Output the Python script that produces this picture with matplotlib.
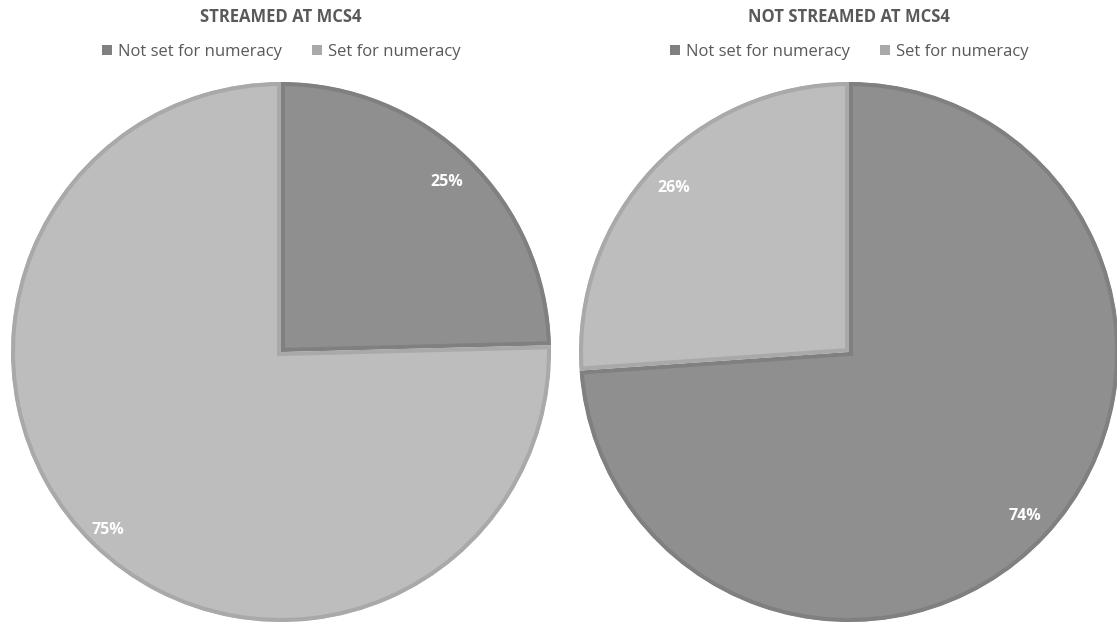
import matplotlib
matplotlib.use("Agg")
import matplotlib.pyplot as plt
from matplotlib.patches import Patch
import numpy as np

categories = ["Not set for numeracy", "Set for numeracy"]
titles = ["STREAMED AT MCS4", "NOT STREAMED AT MCS4"]
streamed = [24.6, 75.4]
not_streamed = [73.9, 26.1]
pct_labels = [["25%", "75%"], ["74%", "26%"]]

fills = ["#8f8f8f", "#bdbdbd"]
edges = ["#808080", "#a9a9a9"]
legend_cols = ["#808080", "#a9a9a9"]
text_col = "#595959"

plt.rcParams['font.family'] = ['Open Sans', 'DejaVu Sans']

W, H = 1117, 625
fig = plt.figure(figsize=(W / 100, H / 100), dpi=100)

R = 270
centers = [(281, 352), (849, 352)]
datasets = [streamed, not_streamed]

for i, (data, (cx, cy)) in enumerate(zip(datasets, centers)):
    ax = fig.add_axes([(cx - R) / W, (H - cy - R) / H, 2 * R / W, 2 * R / H])
    wedges, _ = ax.pie(data, colors=fills, startangle=90, counterclock=False,
                       radius=1.0, wedgeprops=dict(linewidth=5.8))
    ax.set_xlim(-1, 1)
    ax.set_ylim(-1, 1)
    ax.set_aspect('equal')
    for w, ec in zip(wedges, edges):
        w.set_edgecolor(ec)
        w.set_clip_on(True)
        w.set_clip_path(w)
    total = sum(data)
    start = 90.0
    dists = [0.88, 0.92] if i == 0 else [0.89, 0.89]
    for j, v in enumerate(data):
        ang = start - 360.0 * v / total / 2
        start -= 360.0 * v / total
        d = dists[j]
        ax.text(d * np.cos(np.radians(ang)), d * np.sin(np.radians(ang)),
                pct_labels[i][j], ha='center', va='center', color='white',
                fontsize=11.5, fontweight='bold')
    ax.axis('off')

    fig.text(cx / W, 1 - 17 / H, titles[i], ha='center', va='center',
             fontsize=12, fontweight='bold', color=text_col)
    handles = [Patch(facecolor=c, edgecolor='none') for c in legend_cols]
    fig.legend(handles, categories, loc='center', bbox_to_anchor=(cx / W, 1 - 52 / H),
               ncol=2, frameon=False, fontsize=12, labelcolor=text_col,
               handlelength=0.6, handleheight=0.6, handletextpad=0.35,
               columnspacing=1.8)

fig.savefig("out.png", dpi=100)
